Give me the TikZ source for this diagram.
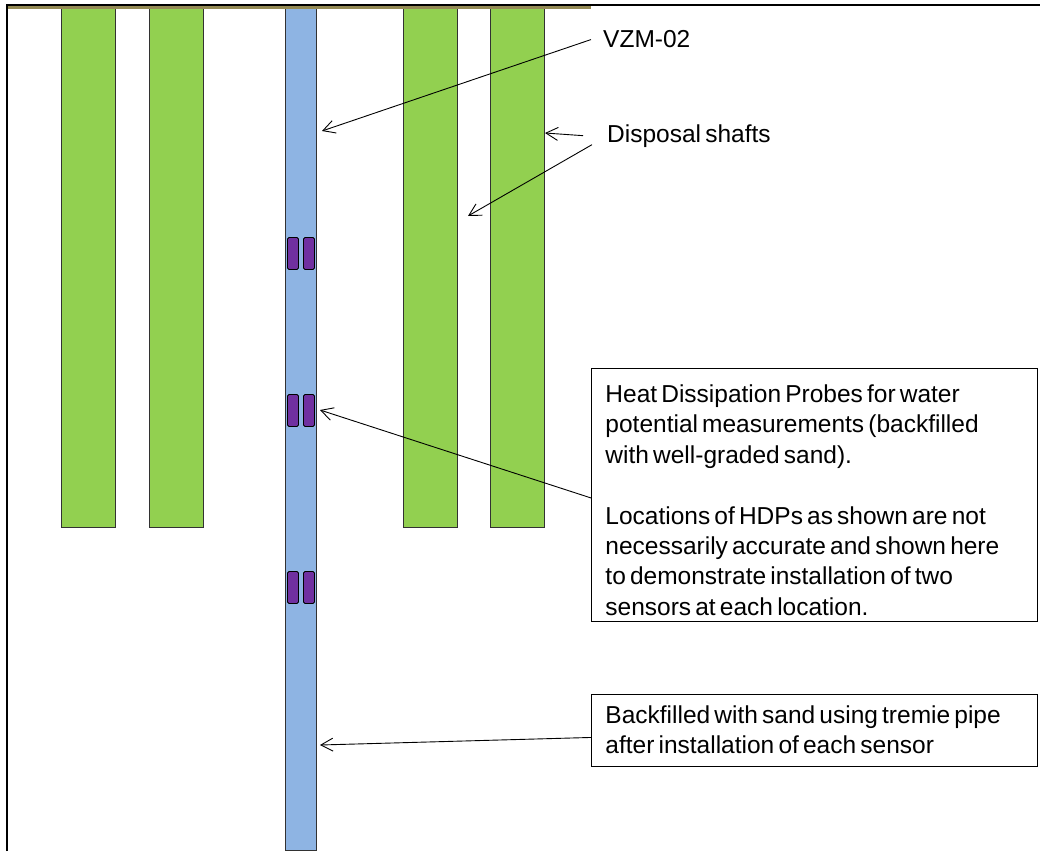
\documentclass[tikz,border=0pt]{standalone}
\usepackage{fontspec}
\setmainfont{Liberation Sans}
\usetikzlibrary{arrows.meta,calc}
\definecolor{shaftgreen}{RGB}{146,208,80}
\definecolor{pipeblue}{RGB}{142,180,227}
\definecolor{probepurple}{RGB}{112,48,160}
\definecolor{groundolive}{RGB}{148,138,84}
\definecolor{edgegray}{RGB}{50,50,50}
\newcommand{\calloutfont}{\fontsize{24.5}{30.4}\selectfont\spaceskip=0.17em plus 0.05em\relax}
\begin{document}
\begin{tikzpicture}[x=1pt,y=-1pt,
  shaft/.style={draw=edgegray, fill=shaftgreen, line width=0.9pt, inner sep=0pt,
    minimum width=54pt, minimum height=519pt, anchor=north west},
  pipe/.style={draw=edgegray, fill=pipeblue, line width=0.9pt, inner sep=0pt,
    minimum width=31pt, minimum height=842pt, anchor=north west},
  probe/.style={draw=black, fill=probepurple, line width=0.9pt, inner sep=0pt,
    rounded corners=1.5pt, minimum width=11pt, minimum height=32pt, anchor=north west},
  lbl/.style={font=\calloutfont, inner sep=0pt, anchor=base west},
  callout/.style={draw=black, line width=0.9pt, fill=white, anchor=north west,
    inner xsep=14pt, inner ysep=0pt, text width=418pt, align=flush left,
    font=\calloutfont},
  pointer/.style={draw=black, line width=0.9pt, -{Straight Barb[length=12pt,width=13pt]}}
]
\useasboundingbox (0,0) rectangle (1040,851);
\fill[white] (0,0) rectangle (1040,851);
% frame
\draw[line width=2pt] (7,851) -- (7,5) -- (1040,5);
% disposal shafts
\node[shaft] (s1) at (61,8) {};
\node[shaft] (s2) at (149,8) {};
\node[shaft] (s3) at (403,8) {};
\node[shaft] (s4) at (490,8) {};
% monitoring borehole
\node[pipe] (vzm) at (285,8) {};
% ground surface
\draw[groundolive, line width=3pt] (8,8) -- (591,8);
% heat dissipation probes
\node[probe] (p1a) at (287,237) {};
\node[probe] (p1b) at (303,237) {};
\node[probe] (p2a) at (287,394) {};
\node[probe] (p2b) at (303,394) {};
\node[probe] (p3a) at (287,571) {};
\node[probe] (p3b) at (303,571) {};
% labels
\node[lbl] (vzmlbl) at (603,48) {VZM-02};
\node[lbl] (displbl) at (607,142) {Disposal shafts};
\node[callout, text height=34pt, text depth=219pt] (hdp) at (591,368)
  {\calloutfont Heat Dissipation Probes for water\\
   potential measurements (backfilled\\
   with well-graded sand).\\[30.4pt]
   Locations of HDPs as shown are not\\
   necessarily accurate and shown here\\
   to demonstrate installation of two\\
   sensors at each location.};
\node[callout, text height=29pt, text depth=43pt] (bf) at (591,694)
  {\calloutfont Backfilled with sand using tremie pipe\\
   after installation of each sensor};
% targets
\coordinate (tvzm) at (322,131);
\coordinate (ts4) at (545,133);
\coordinate (ts3) at (468,216);
\coordinate (tp2) at (320,410);
\coordinate (tbf) at (320,745);
% connectors
\draw[pointer] ($(vzmlbl.west)+(-12,0)$) -- (tvzm);
\draw[pointer] ($(displbl.west)+(-24,0)$) -- (ts4);
\draw[pointer] ($(displbl.west)+(-15,9)$) -- (ts3);
\draw[pointer] ($(hdp.west)+(0,3)$) -- (tp2);
\draw[pointer] ($(bf.west)+(0,7)$) -- (tbf);
\end{tikzpicture}
\end{document}
